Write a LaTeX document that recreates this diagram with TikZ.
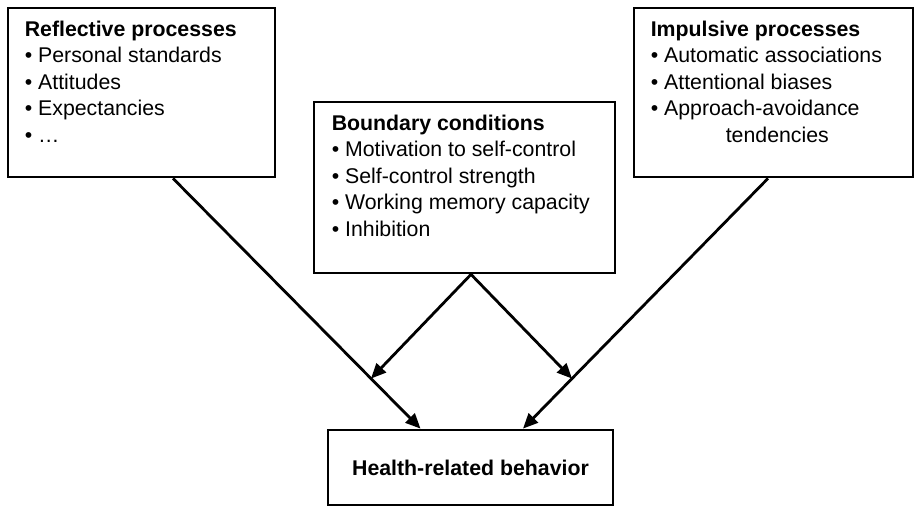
\documentclass[tikz,border=0pt]{standalone}
\usepackage{fontspec}
\setmainfont{Liberation Sans}
\usetikzlibrary{arrows.meta,calc}

\begin{document}
\begin{tikzpicture}[x=1pt,y=1pt]
\tikzset{box/.style={draw,line width=2.8pt,inner sep=0pt},
  txt/.style={anchor=north west,inner sep=0pt,align=left,font=\fontsize{21.3}{26.5}\selectfont},
  arr/.style={line width=2.8pt,-{Triangle[length=15pt,width=13pt]}}}
\useasboundingbox (0,0) rectangle (915,507);
\node[box,minimum width=267pt,minimum height=169pt] (refl) at (141.5,414.5) {};
\node[box,minimum width=301pt,minimum height=171pt] (bound) at (464.5,319.5) {};
\node[box,minimum width=279pt,minimum height=169pt] (impul) at (773.5,414.5) {};
\node[box,minimum width=285pt,minimum height=75pt,
  font=\bfseries\fontsize{21.3}{26.5}\selectfont] (health) at (470.5,39.5) {Health-related behavior};
\node[txt] (refltext) at ([shift={(18pt,-14pt)}]refl.north west)
  {\textbf{Reflective processes}\\• Personal standards\\• Attitudes\\• Expectancies\\• …};
\node[txt] (boundtext) at ([shift={(19pt,-14pt)}]bound.north west)
  {\textbf{Boundary conditions}\\• Motivation to self-control\\• Self-control strength\\• Working memory capacity\\• Inhibition};
\node[txt] (impultext) at ([shift={(18pt,-14pt)}]impul.north west)
  {\textbf{Impulsive processes}\\• Automatic associations\\• Attentional biases\\• Approach-avoidance\\\hspace*{75pt}tendencies};
\coordinate (reflout) at ([xshift=31.5pt]refl.south);
\coordinate (impulout) at ([xshift=-5.5pt]impul.south);
\coordinate (boundout) at ([xshift=6.5pt]bound.south);
\coordinate (healthl) at ([xshift=-50pt]health.north);
\coordinate (healthr) at ([xshift=52.5pt]health.north);
\coordinate (midl) at ($(reflout)!0.8!(healthl)$);
\coordinate (midr) at ($(impulout)!0.8!(healthr)$);
\draw[arr] (reflout) -- (healthl);
\draw[arr] (impulout) -- (healthr);
\draw[arr] (boundout) -- (midl);
\draw[arr] (boundout) -- (midr);
\end{tikzpicture}
\end{document}
